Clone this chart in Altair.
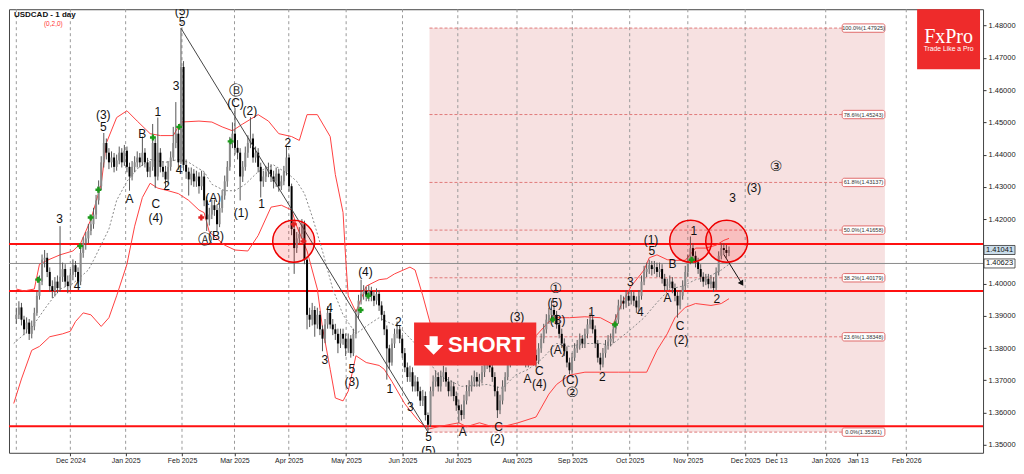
import json
import altair as alt
import pandas as pd

# ---------------- data ----------------
start_bar = -21          # bar index 0 = first trading day of Dec 2024
first_open = 1.3890

closes = [
    1.3903, 1.3926, 1.3888, 1.3858, 1.3879, 1.3844, 1.3867, 1.3909, 1.3962, 1.4006,
    1.4074, 1.4080, 1.4036, 1.3992, 1.3977, 1.4006, 1.3986, 1.4021, 1.4045, 1.4006,
    1.3992, 1.4027, 1.4057, 1.4036, 1.4006, 1.4095, 1.4125, 1.4140, 1.4163, 1.4184,
    1.4214, 1.4258, 1.4302, 1.4376, 1.4436, 1.4406, 1.4376, 1.4391, 1.4362, 1.4382,
    1.4406, 1.4376, 1.4412, 1.4362, 1.4332, 1.4362, 1.4376, 1.4391, 1.4376, 1.4406,
    1.4376, 1.4347, 1.4362, 1.4436, 1.4332, 1.4406, 1.4362, 1.4347, 1.4323, 1.4362,
    1.4391, 1.4436, 1.4465, 1.4376, 1.4672, 1.4368, 1.4347, 1.4323, 1.4341, 1.4317,
    1.4332, 1.4302, 1.4332, 1.4258, 1.4199, 1.4214, 1.4243, 1.4228, 1.4184, 1.4234,
    1.4273, 1.4317, 1.4362, 1.4436, 1.4465, 1.4421, 1.4406, 1.4332, 1.4362, 1.4406,
    1.4436, 1.4450, 1.4391, 1.4406, 1.4362, 1.4317, 1.4332, 1.4347, 1.4353, 1.4332,
    1.4317, 1.4341, 1.4302, 1.4317, 1.4347, 1.4391, 1.4302, 1.4169, 1.4110, 1.4140,
    1.4154, 1.4184, 1.4074, 1.3903, 1.3888, 1.3918, 1.3873, 1.3903, 1.3858, 1.3829,
    1.3873, 1.3909, 1.3873, 1.3858, 1.3844, 1.3814, 1.3844, 1.3829, 1.3799, 1.3829,
    1.3784, 1.3844, 1.3903, 1.3947, 1.3968, 1.3977, 1.3962, 1.3977, 1.3962, 1.3947,
    1.3968, 1.3932, 1.3903, 1.3858, 1.3799, 1.3755, 1.3814, 1.3844, 1.3858, 1.3829,
    1.3784, 1.3740, 1.3710, 1.3725, 1.3681, 1.3696, 1.3666, 1.3637, 1.3651, 1.3592,
    1.3562, 1.3666, 1.3696, 1.3710, 1.3681, 1.3710, 1.3725, 1.3696, 1.3666, 1.3681,
    1.3651, 1.3622, 1.3607, 1.3592, 1.3637, 1.3666, 1.3681, 1.3696, 1.3710, 1.3696,
    1.3702, 1.3725, 1.3749, 1.3761, 1.3740, 1.3710, 1.3666, 1.3607, 1.3637, 1.3681,
    1.3710, 1.3755, 1.3799, 1.3829, 1.3844, 1.3814, 1.3799, 1.3778, 1.3755, 1.3770,
    1.3784, 1.3778, 1.3761, 1.3799, 1.3829, 1.3858, 1.3888, 1.3903, 1.3918, 1.3903,
    1.3873, 1.3844, 1.3814, 1.3790, 1.3755, 1.3731, 1.3770, 1.3799, 1.3808, 1.3829,
    1.3814, 1.3844, 1.3873, 1.3888, 1.3858, 1.3814, 1.3770, 1.3749, 1.3784, 1.3808,
    1.3820, 1.3829, 1.3858, 1.3888, 1.3932, 1.3947, 1.3938, 1.3962, 1.3947, 1.3962,
    1.3947, 1.3926, 1.3962, 1.4006, 1.4036, 1.4045, 1.4057, 1.4045, 1.4051, 1.4036,
    1.4045, 1.4015, 1.3992, 1.3998, 1.4006, 1.3986, 1.3962, 1.3932, 1.3962, 1.3992,
    1.4036, 1.4074, 1.4110, 1.4086, 1.4066, 1.4045, 1.4021, 1.4006, 1.4015, 1.3998,
    1.4006, 1.3986, 1.4036, 1.4086, 1.4110, 1.4104, 1.4095, 1.4104,
]

highs = [
    1.3925, 1.3945, 1.3940, 1.3900, 1.3895, 1.3890, 1.3885, 1.3925, 1.3975, 1.4025,
    1.4090, 1.4104, 1.4095, 1.4050, 1.4010, 1.4020, 1.4025, 1.4178, 1.4065, 1.4060,
    1.4025, 1.4045, 1.4075, 1.4070, 1.4050, 1.4110, 1.4145, 1.4160, 1.4185, 1.4205,
    1.4235, 1.4275, 1.4320, 1.4395, 1.4467, 1.4450, 1.4420, 1.4410, 1.4405, 1.4400,
    1.4425, 1.4420, 1.4430, 1.4425, 1.4375, 1.4380, 1.4395, 1.4410, 1.4405, 1.4456,
    1.4420, 1.4390, 1.4380, 1.4495, 1.4450, 1.4515, 1.4420, 1.4380, 1.4365, 1.4380,
    1.4410, 1.4486, 1.4563, 1.4480, 1.4792, 1.4690, 1.4385, 1.4360, 1.4360, 1.4355,
    1.4350, 1.4345, 1.4350, 1.4345, 1.4270, 1.4235, 1.4260, 1.4260, 1.4245, 1.4250,
    1.4290, 1.4335, 1.4380, 1.4455, 1.4500, 1.4545, 1.4445, 1.4420, 1.4380, 1.4425,
    1.4460, 1.4516, 1.4465, 1.4425, 1.4420, 1.4375, 1.4350, 1.4365, 1.4375, 1.4370,
    1.4350, 1.4360, 1.4355, 1.4335, 1.4365, 1.4427, 1.4400, 1.4310, 1.4185, 1.4160,
    1.4175, 1.4200, 1.4195, 1.4080, 1.3925, 1.3940, 1.3930, 1.3925, 1.3915, 1.3870,
    1.3890, 1.3930, 1.3920, 1.3890, 1.3875, 1.3860, 1.3860, 1.3860, 1.3845, 1.3845,
    1.3840, 1.3860, 1.3920, 1.3965, 1.4012, 1.3995, 1.3990, 1.3995, 1.3990, 1.3975,
    1.3985, 1.3980, 1.3945, 1.3915, 1.3870, 1.3810, 1.3830, 1.3860, 1.3882, 1.3870,
    1.3840, 1.3800, 1.3755, 1.3745, 1.3740, 1.3715, 1.3710, 1.3680, 1.3670, 1.3665,
    1.3600, 1.3680, 1.3715, 1.3730, 1.3725, 1.3730, 1.3745, 1.3740, 1.3710, 1.3700,
    1.3695, 1.3665, 1.3640, 1.3625, 1.3655, 1.3685, 1.3700, 1.3715, 1.3730, 1.3725,
    1.3720, 1.3745, 1.3765, 1.3780, 1.3775, 1.3755, 1.3725, 1.3680, 1.3655, 1.3700,
    1.3725, 1.3770, 1.3815, 1.3845, 1.3873, 1.3860, 1.3830, 1.3815, 1.3790, 1.3790,
    1.3800, 1.3800, 1.3795, 1.3815, 1.3845, 1.3875, 1.3905, 1.3925, 1.3947, 1.3935,
    1.3915, 1.3885, 1.3860, 1.3830, 1.3805, 1.3770, 1.3785, 1.3815, 1.3825, 1.3845,
    1.3840, 1.3860, 1.3890, 1.3909, 1.3900, 1.3870, 1.3825, 1.3785, 1.3800, 1.3825,
    1.3840, 1.3845, 1.3875, 1.3905, 1.3950, 1.3965, 1.3960, 1.3980, 1.3975, 1.3980,
    1.3975, 1.3960, 1.3980, 1.4025, 1.4055, 1.4065, 1.4074, 1.4070, 1.4070, 1.4065,
    1.4065, 1.4060, 1.4030, 1.4015, 1.4025, 1.4020, 1.4000, 1.3975, 1.3980, 1.4010,
    1.4055, 1.4090, 1.4146, 1.4125, 1.4100, 1.4080, 1.4060, 1.4035, 1.4030, 1.4030,
    1.4025, 1.4020, 1.4050, 1.4100, 1.4125, 1.4125, 1.4120, 1.4115,
]

lows = [
    1.3875, 1.3890, 1.3870, 1.3840, 1.3845, 1.3825, 1.3830, 1.3855, 1.3900, 1.3950,
    1.3995, 1.4050, 1.4020, 1.3975, 1.3955, 1.3960, 1.3970, 1.3975, 1.4005, 1.3990,
    1.3970, 1.3980, 1.4010, 1.4020, 1.3986, 1.3995, 1.4080, 1.4105, 1.4125, 1.4150,
    1.4170, 1.4200, 1.4245, 1.4290, 1.4360, 1.4385, 1.4355, 1.4360, 1.4345, 1.4350,
    1.4370, 1.4360, 1.4365, 1.4345, 1.4288, 1.4320, 1.4345, 1.4360, 1.4360, 1.4365,
    1.4360, 1.4330, 1.4330, 1.4350, 1.4296, 1.4320, 1.4345, 1.4330, 1.4296, 1.4310,
    1.4350, 1.4380, 1.4420, 1.4353, 1.4370, 1.4350, 1.4325, 1.4273, 1.4305, 1.4300,
    1.4300, 1.4279, 1.4290, 1.4240, 1.4163, 1.4180, 1.4200, 1.4210, 1.4163, 1.4175,
    1.4220, 1.4260, 1.4300, 1.4350, 1.4420, 1.4400, 1.4385, 1.4258, 1.4315, 1.4350,
    1.4390, 1.4420, 1.4375, 1.4375, 1.4345, 1.4267, 1.4300, 1.4315, 1.4330, 1.4315,
    1.4295, 1.4300, 1.4285, 1.4290, 1.4305, 1.4335, 1.4285, 1.4150, 1.4030, 1.4095,
    1.4125, 1.4140, 1.4060, 1.3858, 1.3865, 1.3870, 1.3835, 1.3860, 1.3840, 1.3790,
    1.3815, 1.3860, 1.3860, 1.3840, 1.3825, 1.3784, 1.3800, 1.3810, 1.3775, 1.3785,
    1.3770, 1.3775, 1.3830, 1.3890, 1.3935, 1.3950, 1.3945, 1.3945, 1.3945, 1.3930,
    1.3935, 1.3915, 1.3885, 1.3840, 1.3702, 1.3735, 1.3745, 1.3800, 1.3830, 1.3815,
    1.3770, 1.3725, 1.3695, 1.3695, 1.3665, 1.3665, 1.3650, 1.3620, 1.3620, 1.3575,
    1.3539, 1.3555, 1.3650, 1.3680, 1.3665, 1.3665, 1.3695, 1.3680, 1.3650, 1.3650,
    1.3635, 1.3605, 1.3568, 1.3575, 1.3580, 1.3625, 1.3650, 1.3665, 1.3680, 1.3680,
    1.3680, 1.3690, 1.3710, 1.3735, 1.3725, 1.3695, 1.3650, 1.3583, 1.3595, 1.3625,
    1.3665, 1.3700, 1.3740, 1.3785, 1.3815, 1.3800, 1.3780, 1.3760, 1.3740, 1.3740,
    1.3755, 1.3760, 1.3740, 1.3750, 1.3785, 1.3815, 1.3845, 1.3875, 1.3890, 1.3885,
    1.3860, 1.3830, 1.3800, 1.3775, 1.3740, 1.3719, 1.3720, 1.3760, 1.3785, 1.3795,
    1.3800, 1.3800, 1.3830, 1.3860, 1.3845, 1.3800, 1.3755, 1.3731, 1.3740, 1.3770,
    1.3795, 1.3805, 1.3815, 1.3845, 1.3875, 1.3920, 1.3920, 1.3925, 1.3930, 1.3935,
    1.3930, 1.3909, 1.3915, 1.3950, 1.3995, 1.4020, 1.4030, 1.4025, 1.4030, 1.4020,
    1.4020, 1.4000, 1.3975, 1.3980, 1.3985, 1.3970, 1.3945, 1.3894, 1.3920, 1.3950,
    1.3980, 1.4020, 1.4060, 1.4070, 1.4050, 1.4030, 1.4005, 1.3990, 1.3995, 1.3985,
    1.3985, 1.3974, 1.3980, 1.4025, 1.4075, 1.4090, 1.4080, 1.4085,
]

# Bollinger bands (read at sample bars)
upper_bars = [-21, -18, -14, -12, -9, -4, 1, 4, 8, 12, 14, 18, 22, 26, 31, 35, 40, 43, 50, 55,
              59, 63, 67, 73, 77, 81, 86, 89, 92, 96, 101, 103, 106, 107, 108, 111, 115, 120, 123, 126,
              132, 134, 137, 140, 144, 155, 167, 174, 181, 186, 189, 194, 200, 206, 211, 214, 218, 223, 225, 228,
              232, 235, 239, 243, 247, 251, 254, 256]
upper_vals = [1.3983, 1.3977, 1.3983, 1.4060, 1.4072, 1.4089, 1.4101, 1.4125, 1.4199, 1.4308,
              1.4436, 1.4515, 1.4536, 1.4504, 1.4465, 1.4459, 1.4459, 1.4501, 1.4504, 1.4501,
              1.4486, 1.4474, 1.4495, 1.4524, 1.4504, 1.4465, 1.4456, 1.4444, 1.4524, 1.4524,
              1.4456, 1.4338, 1.4220, 1.4080, 1.3962, 1.3912, 1.3992, 1.4012, 1.4015, 1.4030,
              1.4051, 1.4042, 1.3962, 1.3873, 1.3799, 1.3770, 1.3784, 1.3829, 1.3838, 1.3882,
              1.3894, 1.3894, 1.3897, 1.3894, 1.3873, 1.3932, 1.3992, 1.4042, 1.4080, 1.4089,
              1.4074, 1.4072, 1.4072, 1.4110, 1.4110, 1.4119, 1.4134, 1.4140]
lower_bars = [-22, -19, -15, -12, -8, -3, 0, 2, 5, 8, 12, 15, 18, 22, 25, 28, 31, 34, 38, 42,
              46, 50, 52, 54, 60, 64, 69, 73, 78, 82, 86, 88, 92, 96, 98, 101, 103, 106, 108, 111,
              115, 120, 122, 125, 130, 135, 139, 143, 151, 154, 159, 164, 168, 174, 181, 186, 189, 194, 200, 206,
              213, 218, 224, 228, 232, 235, 239, 243, 249, 253, 256]
lower_vals = [1.3628, 1.3704, 1.3793, 1.3805, 1.3835, 1.3844, 1.3852, 1.3882, 1.3909, 1.3903,
              1.3867, 1.3894, 1.3962, 1.4060, 1.4178, 1.4267, 1.4311, 1.4296, 1.4288, 1.4279,
              1.4258, 1.4228, 1.4220, 1.4160, 1.4119, 1.4104, 1.4101, 1.4149, 1.4237, 1.4243,
              1.4228, 1.4178, 1.4101, 1.3983, 1.3864, 1.3734, 1.3645, 1.3636, 1.3666, 1.3776,
              1.3755, 1.3746, 1.3734, 1.3696, 1.3627, 1.3577, 1.3548, 1.3556, 1.3568, 1.3556,
              1.3568, 1.3556, 1.3556, 1.3568, 1.3586, 1.3657, 1.3687, 1.3716, 1.3725, 1.3725,
              1.3725, 1.3725, 1.3725, 1.3793, 1.3844, 1.3894, 1.3926, 1.3938, 1.3932, 1.3938,
              1.3953]
mid_bars = [-22, -15, -9, -4, 1, 7, 9, 15, 18, 22, 26, 31, 37, 42, 46, 50, 52, 55, 60, 64,
            68, 73, 79, 85, 88, 91, 94, 98, 102, 106, 111, 116, 120, 123, 128, 134, 139, 143, 152, 162,
            168, 173, 178, 183, 189, 194, 200, 206, 210, 217, 223, 228, 233, 238, 243, 248, 253, 256]
mid_vals = [1.3814, 1.3864, 1.3932, 1.3983, 1.4000, 1.4042, 1.4072, 1.4169, 1.4258, 1.4317,
            1.4356, 1.4385, 1.4376, 1.4385, 1.4376, 1.4356, 1.4347, 1.4308, 1.4288, 1.4288,
            1.4308, 1.4347, 1.4368, 1.4338, 1.4317, 1.4279, 1.4208, 1.4101, 1.3983, 1.3903,
            1.3844, 1.3873, 1.3894, 1.3882, 1.3864, 1.3814, 1.3764, 1.3716, 1.3681, 1.3687,
            1.3675, 1.3716, 1.3734, 1.3764, 1.3814, 1.3805, 1.3814, 1.3814, 1.3808, 1.3852,
            1.3894, 1.3941, 1.3983, 1.3992, 1.4012, 1.4021, 1.4042, 1.4060]

# axis
tick_pos = [0, 21.5, 43.4, 63.8, 84.9, 107.2, 129.1, 150.6, 173.6, 195.1, 217.4, 240,
            262.3, 274.3, 293.6, 306, 324.9]
tick_labels = ["Dec 2024", "Jan 2025", "Feb 2025", "Mar 2025", "Apr 2025", "May 2025",
               "Jun 2025", "Jul 2025", "Aug 2025", "Sep 2025", "Oct 2025", "Nov 2025",
               "Dec 2025", "Dec 13", "Jan 2026", "Jan 13", "Feb 2026"]
grid_pos = [-21, 0, 21.5, 43.4, 63.8, 84.9, 107.2, 129.1, 150.6, 173.6, 195.1, 217.4, 240,
            262.3, 293.6, 324.9]
# 1.41000 is covered by the last-price tag in the original
price_ticks = [1.35, 1.36, 1.37, 1.38, 1.39, 1.40, 1.42, 1.43, 1.44, 1.45, 1.46, 1.47, 1.48]

# levels
fib_pct = ["100.0", "78.6", "61.8", "50.0", "38.2", "23.6", "0.0"]
fib_vals = [1.47925, 1.45243, 1.43137, 1.41658, 1.40179, 1.38348, 1.35391]
red_levels = [1.4123, 1.3977, 1.3557]
bid_level = 1.40623
last_price = 1.41041

# wave labels
wave_text = ["(5)", "5", "3", "1", "B", "(3)", "5", "A", "C", "(4)",
             "2", "4", "3", "4", "(C)", "(2)", "(A)", "(B)", "(1)", "1",
             "2", "(4)", "4", "3", "5", "(3)", "2", "1", "3", "5",
             "(5)", "A", "C", "(2)", "(3)", "A", "C", "(4)", "(5)", "(B)",
             "(A)", "(C)", "1", "2", "3", "4", "(1)", "5", "B", "A",
             "C", "(2)", "1", "2", "3", "(3)"]
wave_bar = [43.4, 43.4, 41.1, 34, 27.9, 12.8, 12.8, 23, 33.2, 33.2,
            37.4, 42.3, -4.2, 2.6, 64.2, 69.8, 55.5, 56.6, 66.4, 74.3,
            84.5, 114.7, 100.8, 98.9, 109.4, 109.4, 127.5, 124.2, 132.1, 139.2,
            139.2, 152.5, 166.4, 166, 173.6, 177.7, 182.3, 182.3, 188.3, 189.4,
            189.4, 194.3, 202.6, 206.8, 217.7, 221.5, 225.7, 226, 234, 232.1,
            237, 237.4, 242.3, 251.3, 257.4, 265.7]
wave_price = [1.4844, 1.4812, 1.4613, 1.4533, 1.4465, 1.4524, 1.4486, 1.4261, 1.4246, 1.4202,
              1.4302, 1.4353, 1.4199, 1.3992, 1.4560, 1.4536, 1.4264, 1.4148, 1.4220, 1.4246,
              1.4436, 1.4036, 1.3924, 1.3764, 1.3734, 1.3696, 1.3882, 1.3672, 1.3616, 1.3524,
              1.3482, 1.3539, 1.3556, 1.3518, 1.3897, 1.3705, 1.3728, 1.3687, 1.3941, 1.3888,
              1.3793, 1.3702, 1.3912, 1.3710, 1.4006, 1.3912, 1.4134, 1.4101, 1.4060, 1.3956,
              1.3867, 1.3826, 1.4163, 1.3953, 1.4264, 1.4296]
circ_text = ["Ⓑ", "Ⓐ", "①", "②", "③"]
circ_bar = [64.2, 52.5, 188.7, 195.1, 274.3]
circ_price = [1.4598, 1.4134, 1.3983, 1.3660, 1.4362]

up_marks_bar = [-12.5, 3.8, 7.9, 10.9, 32.1, 42.3, 62.3, 112.8, 115.8, 187.5, 211.7, 241.5]
up_marks_price = [1.4012, 1.4116, 1.4205, 1.4291, 1.4453, 1.4486, 1.4441, 1.3918, 1.3962,
                  1.3888, 1.3873, 1.4074]
dn_marks_bar = [50.9, 86.8, 90.6]
dn_marks_price = [1.4205, 1.4184, 1.4131]

zone_bar = [86.8, 241.1, 255.1]
zone_price = [1.4131, 1.4131, 1.4131]

arrow_bars = [254, 261]
arrow_prices = [1.4090, 1.4000]

# ---------------- build tables ----------------
bars = list(range(start_bar, start_bar + len(closes)))
opens = [first_open] + closes[:-1]
candles = pd.DataFrame({"bar": bars, "open": opens, "high": highs, "low": lows, "close": closes})
candles["dir"] = ["up" if c >= o else "down" for o, c in zip(opens, closes)]

bands = pd.concat([
    pd.DataFrame({"bar": upper_bars, "v": upper_vals, "band": "upper"}),
    pd.DataFrame({"bar": lower_bars, "v": lower_vals, "band": "lower"}),
])
mid = pd.DataFrame({"bar": mid_bars, "v": mid_vals})

trend = pd.DataFrame({"bar": [43, 139],
                      "p": [highs[43 - start_bar], lows[139 - start_bar]]})

W, H = 975, 444
xs = alt.Scale(domain=[-21.9, 352.8], nice=False, zero=False)
ys = alt.Scale(domain=[1.3475, 1.4851], nice=False, zero=False)
FONT = "Liberation Sans"

label_expr = f"{json.dumps(tick_labels)}[indexof({json.dumps(tick_pos)}, datum.value)]"
x_axis = alt.Axis(values=tick_pos, labelExpr=label_expr, title=None, grid=False, tickSize=3,
                  tickColor="#333", labelFontSize=7, labelFont=FONT, labelColor="#222",
                  labelPadding=1, domain=False, labelOverlap=False, labelFlush=False)
y_axis = alt.Axis(orient="right", values=price_ticks, format=".5f", title=None, grid=False,
                  tickSize=3, tickColor="#333", labelFontSize=7.5, labelFont=FONT,
                  labelColor="#222", labelPadding=2, domain=False, labelOverlap=False)


def X(f, **k):
    return alt.X(f, scale=xs, axis=x_axis, **k)


def Y(f, **k):
    return alt.Y(f, scale=ys, axis=y_axis, **k)


FIB_L, FIB_R, BOX_L = 139.6, 316.6, 300.0

# pink fib zone
zone = alt.Chart(pd.DataFrame({"a": [FIB_L], "b": [FIB_R], "p1": [fib_vals[-1]], "p2": [fib_vals[0]]})
                 ).mark_rect(color="#f7e1e1").encode(x=X("a:Q"), x2="b:Q", y=Y("p1:Q"), y2="p2:Q")

grid = alt.Chart(pd.DataFrame({"g": grid_pos})).mark_rule(
    color="#9a9a9a", strokeDash=[3, 3], strokeWidth=1).encode(x=X("g:Q"))

fib = pd.DataFrame({"v": fib_vals, "pct": fib_pct})
fib["txt"] = [f"{p}%({v:.5f})" for p, v in zip(fib_pct, fib_vals)]
fib["a"] = FIB_L
fib["b"] = BOX_L
fib["bl"] = BOX_L
fib["br"] = FIB_R
fib_lines = alt.Chart(fib).mark_rule(color="#e07a7a", strokeDash=[3, 2], strokeWidth=1).encode(
    x=X("a:Q"), x2="b:Q", y=Y("v:Q"))
fib_boxes = alt.Chart(fib).transform_calculate(
    lo="datum.v - 0.0013", hi="datum.v + 0.0013").mark_rect(
    fill="white", stroke="#e06a6a", strokeWidth=1, cornerRadius=2).encode(
    x=X("bl:Q"), x2="br:Q", y=Y("lo:Q"), y2="hi:Q")
fib_text = alt.Chart(fib).transform_calculate(c="(datum.bl + datum.br) / 2").mark_text(
    fontSize=5.6, font=FONT, color="#333").encode(x=X("c:Q"), y=Y("v:Q"), text="txt:N")

red_lines = alt.Chart(pd.DataFrame({"v": red_levels})).mark_rule(
    color="#ff1010", strokeWidth=2).encode(y=Y("v:Q"))
bid_line = alt.Chart(pd.DataFrame({"v": [bid_level]})).mark_rule(
    color="#8a8a8a", strokeWidth=1).encode(y=Y("v:Q"))

band_lines = alt.Chart(bands).mark_line(color="#ff4040", strokeWidth=1, clip=True).encode(
    x=X("bar:Q"), y=Y("v:Q"), detail="band:N")
mid_line = alt.Chart(mid).mark_line(color="#8a8a8a", strokeWidth=1, strokeDash=[2, 2], clip=True).encode(
    x=X("bar:Q"), y=Y("v:Q"))

ccol = alt.Color("dir:N", scale=alt.Scale(domain=["up", "down"], range=["#8a8a8a", "#000000"]), legend=None)
wicks = alt.Chart(candles).mark_rule(strokeWidth=1, color="#555").encode(
    x=X("bar:Q"), y=Y("low:Q"), y2="high:Q")
bodies = alt.Chart(candles).mark_bar(size=2).encode(
    x=X("bar:Q"), y=Y("open:Q"), y2="close:Q", color=ccol)

trend_line = alt.Chart(trend).mark_line(color="#444", strokeWidth=1).encode(x=X("bar:Q"), y=Y("p:Q"))

arr = pd.DataFrame({"bar": arrow_bars, "p": arrow_prices})
arrow_line = alt.Chart(arr).mark_line(color="#111", strokeWidth=1).encode(x=X("bar:Q"), y=Y("p:Q"))
arrow_head = alt.Chart(arr.iloc[[1]]).mark_point(
    shape="triangle-up", filled=True, color="#111", size=40, angle=148, opacity=1).encode(
    x=X("bar:Q"), y=Y("p:Q"))

zones = alt.Chart(pd.DataFrame({"bar": zone_bar, "p": zone_price})).mark_point(
    shape="circle", filled=True, fill="#ff0000", fillOpacity=0.15, stroke="#ee0000",
    strokeWidth=1.5, strokeOpacity=1, size=1760).encode(x=X("bar:Q"), y=Y("p:Q"))

waves = alt.Chart(pd.DataFrame({"bar": wave_bar, "p": wave_price, "t": wave_text})).mark_text(
    fontSize=12, font=FONT, color="#111", clip=True).encode(x=X("bar:Q"), y=Y("p:Q"), text="t:N")
circ = alt.Chart(pd.DataFrame({"bar": circ_bar, "p": circ_price, "t": circ_text})).mark_text(
    fontSize=14, font="DejaVu Sans", color="#222", clip=True).encode(x=X("bar:Q"), y=Y("p:Q"), text="t:N")

up_marks = alt.Chart(pd.DataFrame({"bar": up_marks_bar, "p": up_marks_price})).mark_point(
    shape="cross", filled=True, color="#1b9a1b", size=35, opacity=1).encode(x=X("bar:Q"), y=Y("p:Q"))
dn_marks = alt.Chart(pd.DataFrame({"bar": dn_marks_bar, "p": dn_marks_price})).mark_point(
    shape="cross", filled=True, color="#e02020", size=35, opacity=1).encode(x=X("bar:Q"), y=Y("p:Q"))

# SHORT badge
badge = alt.Chart(pd.DataFrame({"a": [133.6], "b": [181.1], "p1": [1.3746], "p2": [1.3879]})).mark_rect(
    color="#f22c2c").encode(x=X("a:Q"), x2="b:Q", y=Y("p1:Q"), y2="p2:Q")
badge_txt = alt.Chart(pd.DataFrame({"bar": [161.7], "p": [1.3810], "t": ["SHORT"]})).mark_text(
    fontSize=22, font=FONT, fontWeight="bold", color="white").encode(x=X("bar:Q"), y=Y("p:Q"), text="t:N")
badge_arrow = alt.Chart(pd.DataFrame({"bar": [141.2], "p": [1.3808]})).mark_point(
    shape="M-0.42,-0.95L0.42,-0.95L0.42,-0.05L1,-0.05L0,0.95L-1,-0.05L-0.42,-0.05Z",
    filled=True, color="white", size=380, opacity=1, strokeWidth=0).encode(x=X("bar:Q"), y=Y("p:Q"))

# price tags on the right axis
tags = pd.DataFrame({"p": [last_price, bid_level], "t": [f"{last_price:.5f}", f"{bid_level:.5f}"],
                     "k": ["last", "bid"]})
tag_box = alt.Chart(tags).transform_calculate(lo="datum.p - 0.0014", hi="datum.p + 0.0014").mark_rect(
    stroke="#333", strokeWidth=0.8).encode(
    x=alt.value(W + 1), x2=alt.value(W + 32), y=Y("lo:Q"), y2="hi:Q",
    fill=alt.Fill("k:N", scale=alt.Scale(domain=["last", "bid"], range=["#c9dcea", "#ffffff"]), legend=None))
tag_txt = alt.Chart(tags).mark_text(fontSize=7.5, font=FONT, color="#111").encode(
    x=alt.value(W + 16.5), y=Y("p:Q"), text="t:N")

# title + logo
one = pd.DataFrame({"t": [0]})
title1 = alt.Chart(one).mark_text(text="USDCAD - 1 day", fontSize=8, font=FONT, fontWeight="bold",
                                  align="left", baseline="middle", color="#111").encode(
    x=alt.value(5), y=alt.value(6))
title2 = alt.Chart(one).mark_text(text="(0,2,0)", fontSize=6.5, font=FONT, align="left",
                                  baseline="middle", color="#ff3030").encode(x=alt.value(35), y=alt.value(15))
logo = alt.Chart(one).mark_rect(color="#ee2b2b").encode(
    x=alt.value(909), x2=alt.value(972), y=alt.value(0), y2=alt.value(60))
logo1 = alt.Chart(one).mark_text(text="FxPro", fontSize=20, font="Liberation Serif", color="white",
                                 baseline="middle").encode(x=alt.value(940.5), y=alt.value(28))
logo2 = alt.Chart(one).mark_text(text="Trade Like a Pro", fontSize=6.8, font=FONT, color="white",
                                 baseline="middle").encode(x=alt.value(940.5), y=alt.value(40))

chart = alt.layer(
    zone, grid, fib_lines, red_lines, bid_line, band_lines, mid_line, wicks, bodies,
    trend_line, arrow_line, arrow_head, zones, waves, circ, up_marks, dn_marks,
    badge, badge_txt, badge_arrow, fib_boxes, fib_text, tag_box, tag_txt,
    title1, title2, logo, logo1, logo2,
).resolve_scale(color="independent", fill="independent").properties(
    width=W, height=H, padding=0, background="white"
).configure_view(stroke="#444", strokeWidth=1)

chart.save("out.html", embed_options={"renderer": "svg", "actions": False})
